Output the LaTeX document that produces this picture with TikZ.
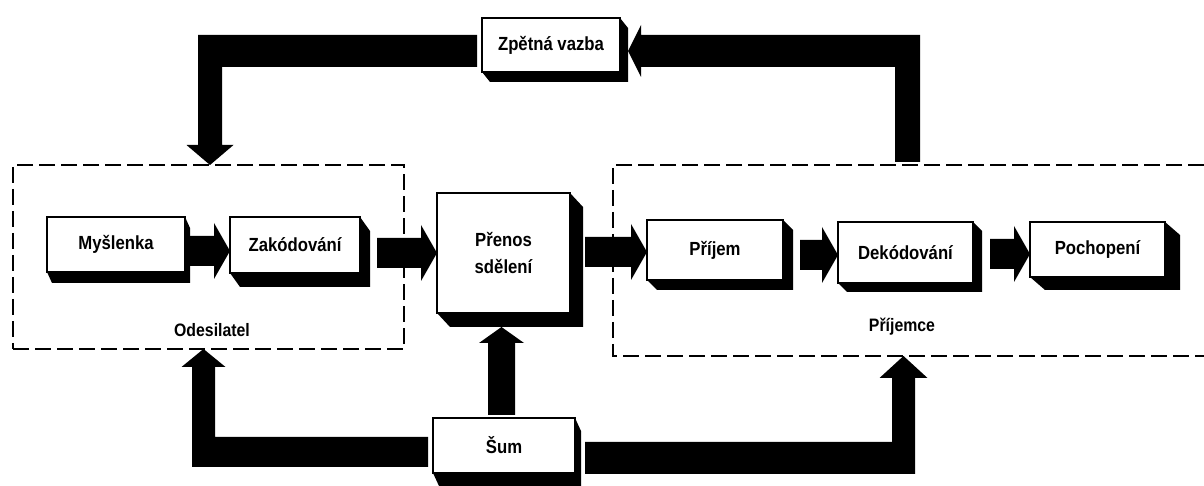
\documentclass[tikz,border=0pt]{standalone}
\usepackage{fontspec}
\setmainfont{Liberation Sans}[FakeStretch=0.88]
\usetikzlibrary{calc}
\newcommand\boxshadow[3]{%
  \fill (#1.south west) -- ++(#2,-#3) -- ($(#1.south east)+(#2,-#3)$) -- ($(#1.north east)+(#2,-#3)$) -- (#1.north east) -- (#1.south east) -- cycle;}
\newcommand\harrow[2]{%
  \fill let \p1=#1, \p2=#2 in
    (\x1,\y2+15pt) -- (\x2-16pt,\y2+15pt) -- (\x2-16pt,\y2+28pt) -- (\x2,\y2)
    -- (\x2-16pt,\y2-28pt) -- (\x2-16pt,\y2-15pt) -- (\x1,\y2-15pt) -- cycle;}
\begin{document}
\begin{tikzpicture}[x=1pt,y=1pt,
  blk/.style={draw, line width=2pt, fill=white, inner sep=0pt, outer sep=0pt,
    align=center, font=\bfseries\fontsize{19}{27}\selectfont},
  dashline/.style={line width=2pt, dash pattern=on 16pt off 6pt},
  lbl/.style={font=\bfseries\fontsize{18}{22}\selectfont, inner sep=0pt}]
\useasboundingbox (0,0) rectangle (1204,486);

% dashed groups
\node[dashline, draw, minimum width=391pt, minimum height=184pt, inner sep=0pt, outer sep=0pt] (ode) at (208.5,229) {};
\draw[dashline] (1204,321) -- (613,321) -- (613,130) -- (1204,130);
\coordinate (odTop) at (210,321);
\coordinate (odBot) at (203.5,137);
\coordinate (prTop) at (907.5,321);
\coordinate (prBot) at (903.5,130);

\node[lbl] (odl) at (212,156) {Odesilatel};
\node[lbl] (prl) at (902,159) {Příjemce};

% boxes
\node[blk, minimum width=138pt, minimum height=55pt] (mys) at (116,241.5) {Myšlenka};
\node[blk, minimum width=130pt, minimum height=56pt] (zak) at (295,241) {Zakódování};
\node[blk, minimum width=133pt, minimum height=120pt] (pre) at (503.5,233) {Přenos\\sdělení};
\node[blk, minimum width=136pt, minimum height=60pt] (pri) at (715,236) {Příjem};
\node[blk, minimum width=135pt, minimum height=61pt] (dek) at (905.5,233.5) {Dekódování};
\node[blk, minimum width=135pt, minimum height=55pt] (poc) at (1097.5,236.5) {Pochopení};
\node[blk, minimum width=142pt, minimum height=55pt] (sum) at (504,40.5) {Šum};
\node[blk, minimum width=138pt, minimum height=54pt] (zpv) at (551,441) {Zpětná vazba};

\boxshadow{mys}{5}{11}
\boxshadow{zak}{10}{14}
\boxshadow{pre}{13}{14}
\boxshadow{pri}{10}{10}
\boxshadow{dek}{9}{9}
\boxshadow{poc}{15}{13}
\boxshadow{sum}{6}{13}
\boxshadow{zpv}{8}{10}

% horizontal arrows
\harrow{($(mys.east)+(5,0)$)}{($(zak.west)+(0,-6)$)}
\harrow{($(zak.east)+(17,0)$)}{(pre.west)}
\harrow{($(pre.east)+(15,0)$)}{($(pri.west)+(0,-2)$)}
\harrow{($(pri.east)+(17,0)$)}{($(dek.west)+(0,-2.5)$)}
\harrow{($(dek.east)+(17,0)$)}{($(poc.west)+(0,-4.5)$)}

% feedback: receiver -> Zpetna vazba
\fill let \p1=(prTop), \p2=($(zpv.east)+(8,-6)$) in
  (\x1-12.5pt,\y1+3pt) -- (\x1-12.5pt,\y2-16pt) -- (\x2+13pt,\y2-16pt) -- (\x2+13pt,\y2-26pt)
  -- (\x2,\y2) -- (\x2+13pt,\y2+26pt) -- (\x2+13pt,\y2+16pt) -- (\x1+12.5pt,\y2+16pt)
  -- (\x1+12.5pt,\y1+3pt) -- cycle;
% feedback: Zpetna vazba -> sender
\fill let \p1=($(zpv.west)+(-5,-6)$), \p2=(odTop) in
  (\x1,\y1+16pt) -- (\x2-12pt,\y1+16pt) -- (\x2-12pt,\y2+20pt) -- (\x2-23.5pt,\y2+20pt)
  -- (\x2,\y2) -- (\x2+23.5pt,\y2+20pt) -- (\x2+12pt,\y2+20pt) -- (\x2+12pt,\y1-16pt)
  -- (\x1,\y1-16pt) -- cycle;

% noise -> sender
\fill let \p1=($(sum.west)+(-5,-6.5)$), \p2=(odBot) in
  (\x1,\y1+15pt) -- (\x2+11.5pt,\y1+15pt) -- (\x2+11.5pt,\y2-18pt) -- (\x2+22pt,\y2-18pt)
  -- (\x2,\y2) -- (\x2-22pt,\y2-18pt) -- (\x2-11.5pt,\y2-18pt) -- (\x2-11.5pt,\y1-15pt)
  -- (\x1,\y1-15pt) -- cycle;
% noise -> transmission
\fill let \p1=($(sum.north)+(-2.5,0)$), \p2=($(pre.south)+(-2,-14)$) in
  (\x2-13.5pt,\y1+3pt) -- (\x2-13.5pt,\y2-16pt) -- (\x2-22.5pt,\y2-16pt) -- (\x2,\y2)
  -- (\x2+22.5pt,\y2-16pt) -- (\x2+13.5pt,\y2-16pt) -- (\x2+13.5pt,\y1+3pt) -- cycle;
% noise -> receiver
\fill let \p1=($(sum.east)+(10,-12.5)$), \p2=(prBot) in
  (\x1,\y1+16pt) -- (\x2-11.5pt,\y1+16pt) -- (\x2-11.5pt,\y2-22pt) -- (\x2-24pt,\y2-22pt)
  -- (\x2,\y2) -- (\x2+24pt,\y2-22pt) -- (\x2+11.5pt,\y2-22pt) -- (\x2+11.5pt,\y1-16pt)
  -- (\x1,\y1-16pt) -- cycle;
\end{tikzpicture}
\end{document}
